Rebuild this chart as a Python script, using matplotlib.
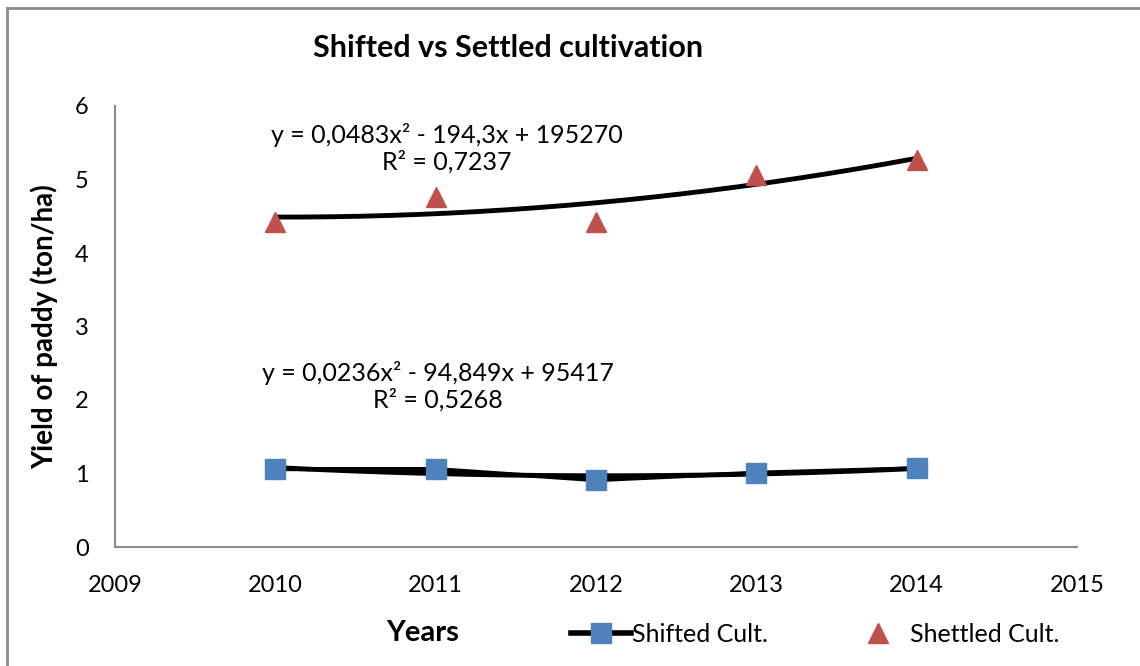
import numpy as np
import matplotlib
matplotlib.use('Agg')
import matplotlib.pyplot as plt
from matplotlib.lines import Line2D

plt.rcParams['font.family'] = ['Lato', 'DejaVu Sans']

# --- dane ---
years = [2010, 2011, 2012, 2013, 2014]
shifted = [1.06, 1.06, 0.91, 1.01, 1.07]
settled = [4.42, 4.76, 4.42, 5.06, 5.27]
eq_settled = "y = 0,0483x² - 194,3x + 195270\nR² = 0,7237"
eq_shifted = "y = 0,0236x² - 94,849x + 95417\nR² = 0,5268"
x_ticks = [2009, 2010, 2011, 2012, 2013, 2014, 2015]
y_ticks = [0, 1, 2, 3, 4, 5, 6]

BLUE = '#4F81BD'
RED = '#C0504D'
GREY = '#8c8c8c'
W, H = 1140, 666

fig = plt.figure(figsize=(11.4, 6.66), dpi=100)
ax = fig.add_axes([115 / W, 1 - 547 / H, 962 / W, 441 / H])

# trendy wielomianowe (stopień 2), liczone z danych
x = np.array(years, dtype=float)
xs = np.linspace(x[0], x[-1], 200)
for vals in (settled, shifted):
    c = np.polyfit(x - 2012, vals, 2)
    ax.plot(xs, np.polyval(c, xs - 2012), color='black', lw=3.5, zorder=2,
            solid_capstyle='round')

ax.plot(years, shifted, color='black', lw=3, marker='s', ms=14,
        mfc=BLUE, mec=BLUE, zorder=3)
ax.plot(years, settled, ls='none', marker='^', ms=15,
        mfc=RED, mec=RED, zorder=3)

ax.set_xlim(2009, 2015)
ax.set_ylim(0, 6)
ax.set_xticks(x_ticks)
ax.set_yticks(y_ticks)
ax.tick_params(length=0, labelsize=17)
ax.tick_params(axis='x', pad=20)
ax.tick_params(axis='y', pad=19)
for s in ('top', 'right'):
    ax.spines[s].set_visible(False)
for s in ('left', 'bottom'):
    ax.spines[s].set_color(GREY)
    ax.spines[s].set_linewidth(1.5)

ax.set_ylabel("Yield of paddy (ton/ha)", fontsize=20, fontweight='bold', labelpad=12)

fig.text(508 / W, 1 - 48 / H, "Shifted vs Settled cultivation",
         fontsize=22, fontweight='bold', ha='center', va='center')
fig.text(423 / W, 1 - 633 / H, "Years", fontsize=21, fontweight='bold',
         ha='center', va='center')

fig.text(447 / W, 1 - 148 / H, eq_settled, fontsize=18, ha='center',
         va='center', linespacing=1.15)
fig.text(438 / W, 1 - 386 / H, eq_shifted, fontsize=18, ha='center',
         va='center', linespacing=1.15)

handles = [
    Line2D([], [], color='black', lw=4, marker='s', ms=14, mfc=BLUE, mec=BLUE),
    Line2D([], [], ls='none', marker='^', ms=15, mfc=RED, mec=RED),
]
fig.legend(handles, ["Shifted Cult.", "Shettled Cult."], ncol=2, frameon=False,
           loc='center', bbox_to_anchor=(815 / W, 1 - 634 / H),
           fontsize=18, handlelength=2.4, handletextpad=0.05, columnspacing=3.2)

# ramka wykresu (lewa i górna krawędź)
fig.add_artist(Line2D([7 / W, 7 / W], [0, 1 - 8 / H], color=GREY, lw=2,
                      transform=fig.transFigure))
fig.add_artist(Line2D([7 / W, 1], [1 - 8 / H, 1 - 8 / H], color=GREY, lw=2,
                      transform=fig.transFigure))

fig.savefig('out.png', dpi=100)
